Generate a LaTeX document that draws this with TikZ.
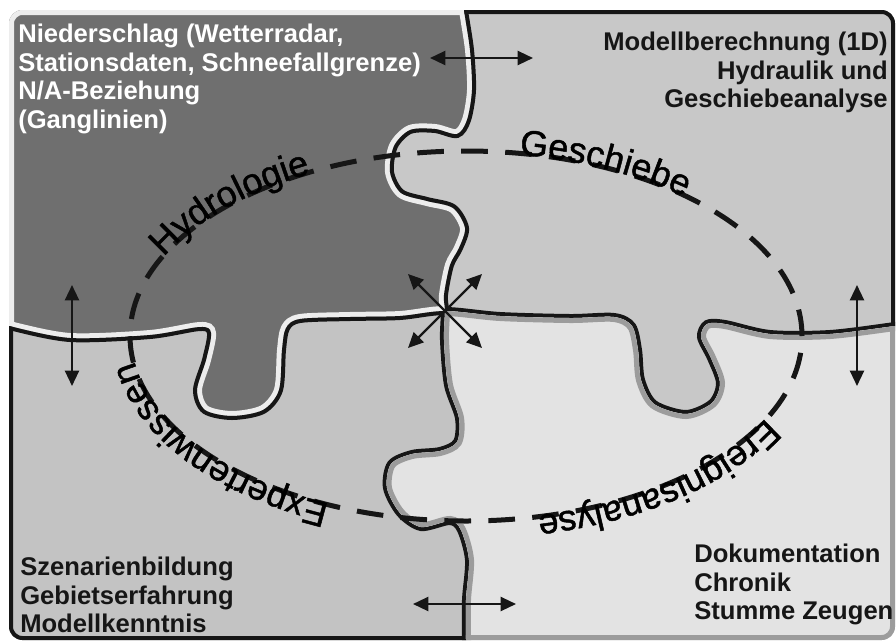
\documentclass[tikz,border=0pt]{standalone}
\usepackage{fontspec}
\setmainfont{Liberation Sans}
\newfontfamily\loopfont{Liberation Sans}[FakeBold=1.3]
\usetikzlibrary{arrows.meta,decorations.text}
\definecolor{PieceDark}{HTML}{6F6F6F}
\definecolor{PieceMid}{HTML}{C8C8C8}
\definecolor{PieceLow}{HTML}{C3C3C3}
\definecolor{PieceLight}{HTML}{E3E3E3}
\definecolor{RimLight}{HTML}{EDEDED}
\definecolor{RimGray}{HTML}{9C9C9C}
\definecolor{Ink}{HTML}{161616}
% puzzle seams in pixel units (y downwards, negated)
\newcommand{\seamH}{plot[smooth,tension=0.5] coordinates {(-10,-320) (9,-326) (70,-338) (150,-335) (200,-327) (211,-333) (206,-360) (197,-390) (205,-410) (232,-416) (263,-410) (279,-390) (282,-350) (286,-328) (300,-319) (350,-317) (400,-316) (445,-311) (500,-316) (570,-318) (614,-317) (632,-326) (638,-350) (641,-380) (654,-404) (686,-414) (712,-403) (720,-383) (711,-358) (701,-337) (707,-324) (725,-324) (770,-334) (830,-334) (895,-326) (910,-324)}}
\newcommand{\seamV}{plot[smooth,tension=0.5] coordinates {(463,5) (464,-10) (470,-50) (472,-90) (467,-120) (457,-134) (435,-129) (410,-130) (394,-146) (390,-172) (401,-193) (427,-201) (453,-208) (465,-228) (459,-248) (450,-265) (444,-295) (445,-311) (444,-340) (448,-385) (459,-418) (457,-442) (440,-451) (412,-454) (391,-464) (387,-488) (400,-513) (421,-527) (450,-521) (461,-530) (469,-560) (466,-600) (466,-640) (466,-655)}}
\newcommand{\frameR}{(9,-10) rectangle (895,-640)}
\begin{document}
\begin{tikzpicture}[x=0.75pt,y=0.75pt,every node/.style={text=Ink},ring/.style={draw=Ink,line width=3.75pt,dash pattern=on 20pt off 13pt},link/.style={draw=Ink,line width=1.7pt,{Triangle[length=11.5pt,width=10.5pt]}-{Triangle[length=11.5pt,width=10.5pt]}},spoke/.style={draw=Ink,line width=1.7pt,-{Triangle[length=11.5pt,width=10.5pt]}},info/.style={font=\bfseries\fontsize{19.2}{21.3}\selectfont,inner sep=0pt},arcword/.style={decorate,decoration={text along path,text align=center,raise=-1pt,text={|\loopfont\fontsize{27}{29}\selectfont|#1}}}]
\useasboundingbox (0,0) rectangle (896,-643);
\fill[white] (0,0) rectangle (896,-643);
\begin{scope}
\clip[rounded corners=10pt] \frameR;
% top left
\begin{scope}\clip \seamH -- (920,20) -- (-20,20) -- cycle; \clip \seamV -- (-20,-660) -- (-20,20) -- cycle;
\fill[PieceDark] (0,0) rectangle (896,-643);
\draw[RimLight,line width=7.5pt] \seamH; \draw[RimLight,line width=7.5pt] \seamV; \draw[RimLight,line width=7.5pt,rounded corners=10pt] \frameR;
\end{scope}
% top right
\begin{scope}\clip \seamH -- (920,20) -- (-20,20) -- cycle; \clip \seamV -- (920,-660) -- (920,20) -- cycle;
\fill[PieceMid] (0,0) rectangle (896,-643);
\draw[Ink,line width=6pt] \seamH; \draw[Ink,line width=6pt] \seamV; \draw[Ink,line width=6pt,rounded corners=10pt] \frameR;
\end{scope}
% bottom left
\begin{scope}\clip \seamH -- (920,-660) -- (-20,-660) -- cycle; \clip \seamV -- (-20,-660) -- (-20,20) -- cycle;
\fill[PieceLow] (0,0) rectangle (896,-643);
\draw[Ink,line width=6pt] \seamH; \draw[Ink,line width=6pt] \seamV; \draw[Ink,line width=6pt,rounded corners=10pt] \frameR;
\end{scope}
% bottom right
\begin{scope}\clip \seamH -- (920,-660) -- (-20,-660) -- cycle; \clip \seamV -- (920,-660) -- (920,20) -- cycle;
\fill[PieceLight] (0,0) rectangle (896,-643);
\draw[RimGray,line width=7.5pt] \seamH; \draw[RimGray,line width=7.5pt] \seamV; \draw[RimGray,line width=7.5pt,rounded corners=10pt] \frameR;
\end{scope}
\end{scope}
% dashed loop and its words
\coordinate (loop) at (466,-336);
\draw[ring] (loop) ellipse[x radius=336,y radius=185];
\path[arcword=Hydrologie] ([shift={(loop)}]171:336 and 185) arc[start angle=171,end angle=107,x radius=336,y radius=185];
\path[arcword=Geschiebe] ([shift={(loop)}]95:336 and 185) arc[start angle=95,end angle=31,x radius=336,y radius=185];
\path[arcword=Ereignisanalyse] ([shift={(loop)}]-8:336 and 185) arc[start angle=-8,end angle=-89,x radius=336,y radius=185];
\path[arcword=Expertenwissen] ([shift={(loop)}]-106:336 and 185) arc[start angle=-106,end angle=-186,x radius=336,y radius=185];
% texts
\node[info,text=white,align=left,anchor=north west] (hydro) at (18,-24) {Niederschlag (Wetterradar,\\Stationsdaten, Schneefallgrenze)\\N/A-Beziehung\\(Ganglinien)};
\node[info,align=right,anchor=north east] (model) at (888,-32) {Modellberechnung (1D)\\Hydraulik und\\Geschiebeanalyse};
\node[info,align=left,anchor=north west] (expert) at (20,-557) {Szenarienbildung\\Gebietserfahrung\\Modellkenntnis};
\node[info,align=left,anchor=north west] (event) at (694,-544) {Dokumentation\\Chronik\\Stumme Zeugen};
% exchange arrows
\coordinate (tA) at (430,-58); \coordinate (tB) at (533,-58);
\coordinate (lA) at (72,-285); \coordinate (lB) at (72,-386);
\coordinate (rA) at (857,-285); \coordinate (rB) at (857,-386);
\coordinate (bA) at (413,-604); \coordinate (bB) at (516,-604);
\draw[link] (tA) -- (tB); \draw[link] (lA) -- (lB); \draw[link] (rA) -- (rB); \draw[link] (bA) -- (bB);
\coordinate (hub) at (445,-311);
\coordinate (nw) at (408,-274); \coordinate (ne) at (482,-274); \coordinate (sw) at (408,-348); \coordinate (se) at (482,-348);
\foreach \tip in {nw,ne,sw,se}{\draw[spoke] (hub) -- (\tip);}
\end{tikzpicture}
\end{document}
